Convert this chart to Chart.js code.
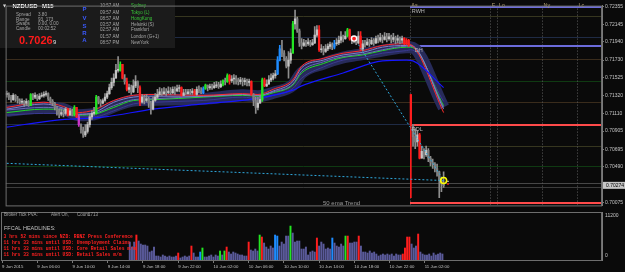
<!DOCTYPE html>
<html>
<head>
<meta charset="utf-8">
<script src="https://cdn.jsdelivr.net/npm/chart.js@4.4.1/dist/chart.umd.min.js"></script>
<style>
  html, body { margin: 0; padding: 0; background: #0a0a0a; }
  #wrap { position: relative; width: 625px; height: 272px; background: #0a0a0a; overflow: hidden; }
  #priceChart { position: absolute; left: 0; top: 0; }
  #volChart { position: absolute; left: 0; top: 211px; }
</style>
</head>
<body>
<div id="wrap">
  <canvas id="priceChart" width="625" height="211"></canvas>
  <canvas id="volChart" width="625" height="61"></canvas>
</div>
<script>
// NZDUSD M15, 9 Jun 2015 -> 11 Jun 2015
const totalBars = 273; // slots on the x axis, the right part is empty future space

const closes = [
  0.7133,0.7130,0.7127,0.7132,0.7128,0.7126,0.7124,0.7125,0.7123,0.7125,
  0.7120,0.7133,0.7130,0.7132,0.7128,0.7131,0.7132,0.7133,0.7134,0.7128,
  0.7125,0.7123,0.7118,0.7114,0.7110,0.7112,0.7111,0.7116,0.7109,0.7114,
  0.7109,0.7118,0.7107,0.7098,0.7092,0.7086,0.7090,0.7098,0.7107,0.7111,
  0.7111,0.7130,0.7125,0.7123,0.7126,0.7130,0.7134,0.7141,0.7147,0.7152,
  0.7161,0.7161,0.7168,0.7152,0.7148,0.7139,0.7141,0.7136,0.7143,0.7148,
  0.7141,0.7124,0.7130,0.7126,0.7128,0.7123,0.7116,0.7126,0.7130,0.7133,
  0.7136,0.7134,0.7136,0.7135,0.7137,0.7135,
  0.7139,0.7137,0.7140,0.7141,0.7132,0.7135,0.7134,0.7136,0.7135,0.7137,
  0.7133,0.7139,0.7137,0.7135,0.7140,0.7144,0.7141,0.7142,0.7141,0.7143,
  0.7144,0.7142,0.7145,0.7149,0.7148,0.7155,0.7149,0.7151,0.7152,0.7150,
  0.7148,0.7150,0.7148,0.7149,0.7147,0.7148,0.7133,0.7126,0.7118,0.7123,
  0.7127,0.7150,0.7143,0.7145,0.7150,0.7152,0.7155,0.7157,0.7173,0.7186,
  0.7181,0.7175,0.7166,0.7173,0.7181,0.7215,0.7221,0.7207,0.7193,0.7190,
  0.7193,0.7192,0.7194,0.7191,0.7193,0.7202,0.7208,0.7185,0.7186,0.7183,
  0.7186,0.7189,0.7191,0.7188,0.7192,0.7193,0.7196,0.7200,0.7198,0.7201,
  0.7208,0.7198,0.7196,0.7197,0.7193,0.7201,0.7186,0.7192,0.7191,0.7194,
  0.7192,0.7196,0.7193,0.7198,0.7196,0.7199,0.7197,0.7200,0.7198,0.7200,
  0.7197,0.7199,0.7196,0.7198,0.7196,0.7198,0.7192,0.7196,0.7190,0.7098,
  0.7084,0.7078,0.7086,0.7059,0.7067,0.7063,0.7068,0.7059,0.7054,0.7052,
  0.7047,0.7043,0.7033,0.7029,0.70269
];
const highs = [
  0.7137,0.7135,0.7132,0.7134,0.7133,0.7131,0.7128,0.7128,0.7126,0.7128,
  0.7126,0.7134,0.7134,0.7135,0.7133,0.7134,0.7135,0.7136,0.7137,0.7135,
  0.7130,0.7127,0.7124,0.7119,0.7116,0.7116,0.7115,0.7118,0.7117,0.7117,
  0.7116,0.7120,0.7118,0.7109,0.7099,0.7095,0.7098,0.7101,0.7110,0.7114,
  0.7118,0.7132,0.7131,0.7127,0.7128,0.7134,0.7137,0.7145,0.7152,0.7157,
  0.7168,0.7177,0.7171,0.7168,0.7156,0.7152,0.7145,0.7144,0.7150,0.7155,
  0.7149,0.7143,0.7133,0.7132,0.7133,0.7130,0.7125,0.7130,0.7134,0.7139,
  0.7141,0.7140,0.7141,0.7140,0.7142,0.7141,
  0.7142,0.7142,0.7144,0.7144,0.7142,0.7139,0.7139,0.7139,0.7139,0.7140,
  0.7139,0.7142,0.7143,0.7141,0.7142,0.7145,0.7144,0.7145,0.7145,0.7147,
  0.7148,0.7147,0.7149,0.7150,0.7152,0.7157,0.7156,0.7155,0.7156,0.7155,
  0.7152,0.7153,0.7152,0.7152,0.7151,0.7151,0.7149,0.7134,0.7130,0.7130,
  0.7132,0.7152,0.7152,0.7150,0.7155,0.7157,0.7158,0.7161,0.7177,0.7190,
  0.7196,0.7184,0.7177,0.7183,0.7186,0.7218,0.7231,0.7223,0.7209,0.7198,
  0.7197,0.7196,0.7198,0.7196,0.7197,0.7212,0.7213,0.7213,0.7191,0.7189,
  0.7191,0.7192,0.7194,0.7193,0.7196,0.7198,0.7201,0.7206,0.7202,0.7206,
  0.7210,0.7209,0.7200,0.7200,0.7198,0.7206,0.7206,0.7196,0.7196,0.7198,
  0.7197,0.7199,0.7198,0.7201,0.7202,0.7204,0.7202,0.7205,0.7204,0.7204,
  0.7202,0.7204,0.7201,0.7202,0.7200,0.7201,0.7199,0.7198,0.7197,0.7133,
  0.7098,0.7093,0.7091,0.7088,0.7073,0.7070,0.7073,0.7070,0.7061,0.7058,
  0.7054,0.7052,0.7044,0.7037,0.7043
];
const lows = [
  0.7130,0.7127,0.7124,0.7126,0.7125,0.7123,0.7122,0.7122,0.7119,0.7120,
  0.7119,0.7120,0.7127,0.7128,0.7126,0.7127,0.7130,0.7130,0.7131,0.7126,
  0.7123,0.7120,0.7115,0.7109,0.7106,0.7108,0.7107,0.7109,0.7108,0.7109,
  0.7108,0.7108,0.7106,0.7096,0.7088,0.7083,0.7084,0.7088,0.7095,0.7104,
  0.7109,0.7110,0.7122,0.7119,0.7122,0.7125,0.7128,0.7133,0.7139,0.7143,
  0.7152,0.7159,0.7160,0.7151,0.7145,0.7137,0.7135,0.7133,0.7135,0.7141,
  0.7135,0.7120,0.7123,0.7122,0.7124,0.7118,0.7110,0.7115,0.7125,0.7128,
  0.7132,0.7132,0.7133,0.7132,0.7134,0.7133,
  0.7134,0.7133,0.7136,0.7136,0.7131,0.7132,0.7133,0.7133,0.7133,0.7133,
  0.7132,0.7132,0.7135,0.7134,0.7134,0.7139,0.7137,0.7139,0.7139,0.7140,
  0.7141,0.7140,0.7141,0.7143,0.7144,0.7147,0.7145,0.7147,0.7145,0.7145,
  0.7144,0.7145,0.7143,0.7144,0.7143,0.7143,0.7132,0.7120,0.7111,0.7115,
  0.7123,0.7125,0.7142,0.7142,0.7145,0.7148,0.7150,0.7152,0.7156,0.7172,
  0.7177,0.7172,0.7164,0.7152,0.7169,0.7181,0.7209,0.7205,0.7189,0.7186,
  0.7189,0.7189,0.7190,0.7189,0.7190,0.7192,0.7200,0.7183,0.7182,0.7179,
  0.7182,0.7184,0.7186,0.7185,0.7186,0.7190,0.7191,0.7193,0.7194,0.7197,
  0.7200,0.7196,0.7192,0.7193,0.7191,0.7192,0.7184,0.7184,0.7188,0.7190,
  0.7189,0.7191,0.7190,0.7192,0.7193,0.7194,0.7193,0.7196,0.7194,0.7196,
  0.7193,0.7194,0.7192,0.7193,0.7192,0.7193,0.7191,0.7191,0.7189,0.7013,
  0.7073,0.7070,0.7073,0.7058,0.7059,0.7058,0.7061,0.7055,0.7050,0.7047,
  0.7043,0.7038,0.7013,0.7020,0.7025
];
// bars that did not open at the previous close (RBNZ rate decision)
const gapOpens = { 185: 0.7133 };

// PVA candle / volume classes (bar numbers)
const climaxBull = [11, 31, 41, 52, 91, 99, 101, 117, 131, 156];
const climaxBear = [28, 32, 53, 55, 61, 80, 86, 102, 112, 118, 143, 157, 162, 182, 183, 184, 185, 189];
const risingBull = [90, 124, 125, 150];
const risingBear = [33];

// broker tick volume, from bar 58 on
const volFirstBar = 58;
const volumes = [
  4190,3030,4190,5830,4430,3730,3500,3500,3260,1860,2100,3030,930,930,700,1170,930,700,
  930,700,700,930,1630,470,700,930,700,930,
  3260,1630,700,700,1860,2800,700,700,930,1170,
  700,1170,930,2100,1170,2100,3030,1860,1400,1860,
  1630,1400,1170,1170,930,930,4190,2330,2100,2560,
  2100,5830,5360,3960,3030,2560,3260,2800,5830,5590,
  3260,4190,3730,5590,5590,7920,6290,4190,4430,4430,
  2560,2560,3030,1170,1860,2100,1860,5130,3260,4190,
  3730,2560,2800,2560,5130,3960,3260,3030,3730,3260,
  5590,5590,3960,3960,4190,4190,5590,3260,1860,1860,
  1630,2100,1630,1860,1400,930,1170,1400,1170,1400,
  1170,1400,930,1400,1170,1170,1400,2800,5360,5360,
  3730,2800,3260,6060,1860,1400,1170,1170,1400,930,
  1630,1170,1400,1630,1400
];

// moving average ribbon, read at these bars
const maBars     = [0, 17, 26, 33, 40, 49, 58, 67, 90, 108, 115, 122, 131, 135, 145, 154, 163, 172, 183, 185, 200];
const emaFast    = [0.7118,0.7124,0.7119,0.7112,0.7115,0.7126,0.7132,0.7133,0.7132,0.7134,0.7133,0.7139,0.7150,0.7166,0.7175,0.7181,0.7184,0.7190,0.7192,0.7191,0.7112];
const emaMid1    = [0.7116,0.7122,0.7117,0.7110,0.7112,0.7124,0.7130,0.7131,0.7131,0.7133,0.7132,0.7137,0.7148,0.7164,0.7173,0.7179,0.7182,0.7188,0.7190,0.7190,0.7116];
const emaMid2    = [0.7115,0.7118,0.7116,0.7110,0.7111,0.7120,0.7127,0.7128,0.7131,0.7133,0.7132,0.7136,0.7145,0.7160,0.7171,0.7177,0.7180,0.7185,0.7189,0.7189,0.7118];
const emaSlow    = [0.7112,0.7116,0.7115,0.7109,0.7110,0.7118,0.7126,0.7127,0.7130,0.7132,0.7131,0.7135,0.7144,0.7158,0.7169,0.7176,0.7179,0.7184,0.7188,0.7188,0.7120];
const emaBase    = [0.7109,0.7111,0.7111,0.7107,0.7107,0.7114,0.7122,0.7124,0.7126,0.7130,0.7128,0.7132,0.7140,0.7152,0.7165,0.7173,0.7176,0.7181,0.7184,0.7185,0.7125];
const ribbonBand = [0.7114,0.7118,0.7116,0.7109,0.7110,0.7119,0.7126,0.7127,0.7128,0.7132,0.7131,0.7135,0.7144,0.7158,0.7169,0.7176,0.7180,0.7184,0.7188,0.7188,0.7118];
const trendBars  = [0, 22, 45, 67, 90, 113, 131, 135, 154, 172, 183, 186, 200];
const ema50      = [0.7095,0.7103,0.7107,0.7116,0.7122,0.7128,0.7138,0.7143,0.7158,0.7172,0.7173,0.7172,0.7141];

// dotted trend lines
const trendABars = [0, 200];
const trendAPrices = [0.7053, 0.7033];
const trendBBars = [161, 200];
const trendBPrices = [0.7191, 0.7033];

// markers
const signalBar = 159, signalPrice = 0.7198;
const lastBar = 200, lastMarkPrice = 0.7033;
const arrowBar = 202, arrowTopPrice = 0.7032, arrowDotPrice = 0.7029;

// right price scale
const priceTicks = [0.72355, 0.72145, 0.71940, 0.71730, 0.71525, 0.71320, 0.71110, 0.70905, 0.70695, 0.70490, 0.70075];
const bidPrice = 0.70274;
const yMin = 0.70041, yMax = 0.72363;
const volMax = 11200;

// time axis
const tickBars = [0, 16, 32, 48, 64, 80, 96, 112, 128, 144, 160, 176, 192];
const timeTicks = ['9 Jun 2015', '9 Jun 06:00', '9 Jun 10:00', '9 Jun 14:00', '9 Jun 18:00', '9 Jun 22:00',
  '10 Jun 02:00', '10 Jun 06:00', '10 Jun 10:00', '10 Jun 14:00', '10 Jun 18:00', '10 Jun 22:00', '11 Jun 02:00'];

// horizontal pivot lines and day levels
const pivotLevels = [0.72241, 0.71996, 0.71739, 0.71489, 0.71238, 0.70987, 0.70736, 0.70497, 0.70304, 0.70250];
const levelNames = ['RWH', 'DH', 'RDL', ''];
const levelPrices = [0.72344, 0.71899, 0.70976, 0.70070];
const sessionNames = ['As', 'F', 'Lo', 'Ny', 'Lc'];
const sessionBars = [184.5, 221.3, 224.5, 245, 261];

// text panels
const panelLabels = ['Spread', 'Range', 'Swaps', 'Candle'];
const panelValues = ['3.80', '93, 173', '0.00, 0.00', '00:02:52'];
const pvsra = ['P', 'V', 'S', 'R', 'A'];
const clockTimes = ['10:57 AM', '09:57 AM', '08:57 AM', '03:57 AM', '02:57 AM', '01:57 AM', '08:57 PM'];
const clockCities = ['Sydney', 'Tokyo (L)', 'HongKong', 'Helsinki (S)', 'Frankfurt', 'London (G+1)', 'NewYork'];
const headlines = [
  '3 hrs 52 mins since NZD: RBNZ Press Conference',
  '11 hrs 33 mins until USD: Unemployment Claims',
  '11 hrs 33 mins until USD: Core Retail Sales m/m',
  '11 hrs 33 mins until USD: Retail Sales m/m'
];

// ---------- build datasets ----------
const N = totalBars;
const labels = Array.from({ length: N }, (_, i) => String(i));
const sparse = (keys, vals) => {
  const out = new Array(N).fill(null);
  keys.forEach((k, j) => { out[k] = vals[j]; });
  return out;
};
const opens = closes.map((c, i) => (gapOpens[i] !== undefined ? gapOpens[i] : (i === 0 ? c : closes[i - 1])));

const pvaColor = i => {
  if (climaxBear.includes(i)) return '#ff1e1e';
  if (climaxBull.includes(i)) return '#22e622';
  if (risingBull.includes(i)) return '#1e8cff';
  if (risingBear.includes(i)) return '#cc33cc';
  return null;
};

const wickData = labels.map((_, i) => (i < closes.length ? [lows[i], highs[i]] : null));
const bodyData = labels.map((_, i) => (i < closes.length ? [opens[i], closes[i]] : null));
const wickColors = labels.map((_, i) => pvaColor(i) || '#8e8e8e');
const bodyColors = labels.map((_, i) => pvaColor(i) || (i < closes.length && closes[i] >= opens[i] ? '#c4c4c4' : '#7e7e7e'));
const volData = labels.map((_, i) => (i >= volFirstBar && i < volFirstBar + volumes.length ? volumes[i - volFirstBar] : null));
const volColors = labels.map((_, i) => pvaColor(i) || '#5a5a9a');

const lineDs = (data, color, width, order, extra) => Object.assign({
  type: 'line', data, borderColor: color, borderWidth: width, pointRadius: 0,
  spanGaps: true, fill: false, cubicInterpolationMode: 'monotone', order
}, extra || {});
const pointDs = (bar, price, opts) => Object.assign({
  type: 'line', data: sparse([bar], [price]), showLine: false, order: 1
}, opts);

const FONT = 'Liberation Sans';

// ---------- overlays ----------
const overlayMain = {
  id: 'overlayMain',
  beforeDatasetsDraw(chart) {
    const { ctx, chartArea: a, scales: { x, y } } = chart;
    ctx.save();
    ctx.beginPath();
    ctx.rect(a.left, a.top, a.right - a.left, a.bottom - a.top);
    ctx.clip();
    const pivotColors = ['#36361f', '#1f2b45', '#3a2c1c', '#0f3a12', '#3a2c1c', '#1f2b45', '#36361f', '#0f3a12', '#474747', '#3c3c3c'];
    ctx.lineWidth = 1;
    pivotLevels.forEach((p, k) => {
      const py = Math.round(y.getPixelForValue(p)) + 0.5;
      ctx.strokeStyle = pivotColors[k];
      ctx.beginPath(); ctx.moveTo(a.left, py); ctx.lineTo(a.right, py); ctx.stroke();
    });
    ctx.setLineDash([1, 2]);
    ctx.strokeStyle = '#5e5e5e';
    sessionBars.forEach(b => {
      const px = Math.round(x.getPixelForValue(b)) + 0.5;
      ctx.beginPath(); ctx.moveTo(px, a.top); ctx.lineTo(px, a.bottom); ctx.stroke();
    });
    ctx.setLineDash([]);
    const x0 = Math.round(x.getPixelForValue(sessionBars[0]));
    const levelColors = ['#6c6cdc', '#6c6cdc', '#ff4a4a', '#ff4a4a'];
    ctx.lineWidth = 2;
    levelPrices.forEach((p, k) => {
      const py = Math.round(y.getPixelForValue(p));
      ctx.strokeStyle = levelColors[k];
      ctx.beginPath(); ctx.moveTo(x0, py); ctx.lineTo(a.right, py); ctx.stroke();
    });
    ctx.restore();
  },
  afterDraw(chart) {
    const { ctx, chartArea: a, scales: { x, y } } = chart;
    ctx.save();
    ctx.textBaseline = 'middle';
    // level + session labels
    const x0 = x.getPixelForValue(sessionBars[0]);
    ctx.font = `5.5px "${FONT}"`;
    ctx.fillStyle = '#b8b8b8';
    levelNames.forEach((n, k) => {
      if (n) ctx.fillText(n, x0 + 2 + (n === 'DH' ? 3 : 0), y.getPixelForValue(levelPrices[k]) + 4.5);
    });
    ctx.fillStyle = '#b4a272';
    sessionNames.forEach((n, k) => ctx.fillText(n, x.getPixelForValue(sessionBars[k]) + 1.5, 5));
    ctx.fillStyle = '#9a9a9a';
    ctx.font = `6px "${FONT}"`;
    ctx.fillText('50 ema Trend', 323, 203.5);

    // info panel
    ctx.fillStyle = '#1b1b1b';
    ctx.fillRect(0, 0, 175, 48);
    ctx.fillStyle = '#d8d8d8';
    ctx.font = `4px "DejaVu Sans"`;
    ctx.fillText('▼', 3, 6);
    ctx.fillStyle = '#ffffff';
    ctx.font = `bold 6px "${FONT}"`;
    ctx.fillText('NZDUSD', 12.5, 6.5);
    ctx.fillText('M15', 42, 6.5);
    ctx.font = `4.6px "${FONT}"`;
    ctx.fillStyle = '#a4a4a4';
    const rowY = [14.7, 19.3, 24, 29];
    panelLabels.forEach((t, k) => ctx.fillText(t, 16, rowY[k]));
    panelValues.forEach((t, k) => ctx.fillText(t, 38, rowY[k]));
    ctx.fillStyle = '#ff1a1a';
    ctx.font = `bold 11px "${FONT}"`;
    ctx.fillText('0.7026', 19, 41);
    ctx.fillStyle = '#e0e0e0';
    ctx.font = `6px "${FONT}"`;
    ctx.fillText('9', 53, 42.5);
    ctx.fillStyle = '#3b5bff';
    ctx.font = `bold 6px "${FONT}"`;
    ctx.textAlign = 'center';
    [9.3, 18.3, 26, 33.3, 40.7].forEach((py, k) => ctx.fillText(pvsra[k], 84.5, py));
    ctx.textAlign = 'left';
    ctx.font = `4.5px "${FONT}"`;
    const clockY = [5.7, 12.3, 18.7, 24.3, 30, 36.3, 42.7];
    clockTimes.forEach((t, k) => {
      ctx.fillStyle = '#a8a8a8';
      ctx.fillText(t, 100, clockY[k]);
      ctx.fillStyle = k < 3 ? '#38c838' : '#a8a8a8';
      ctx.fillText(clockCities[k], 131, clockY[k]);
    });

    // window frame
    ctx.strokeStyle = '#6e6e6e';
    ctx.lineWidth = 1;
    ctx.strokeRect(a.left + 0.5, a.top + 0.5, a.right - a.left - 1, a.bottom - a.top);

    // bid box on the price scale
    const by = y.getPixelForValue(bidPrice);
    ctx.fillStyle = '#c6c6c6';
    ctx.fillRect(a.right + 1, by - 3.5, 22, 7);
    ctx.fillStyle = '#000000';
    ctx.font = `5px "${FONT}"`;
    ctx.fillText(bidPrice.toFixed(5), a.right + 4, by);
    ctx.restore();
  }
};

const overlayVol = {
  id: 'overlayVol',
  afterDraw(chart) {
    const { ctx, chartArea: a, scales: { y } } = chart;
    ctx.save();
    ctx.textBaseline = 'middle';
    ctx.strokeStyle = '#6e6e6e';
    ctx.lineWidth = 1;
    ctx.strokeRect(a.left + 0.5, a.top + 0.5, a.right - a.left - 1, a.bottom - a.top);
    ctx.fillStyle = '#c4c4c4';
    ctx.font = `5px "${FONT}"`;
    ctx.fillText(String(volMax), a.right + 3, y.getPixelForValue(volMax) + 3.5);
    ctx.fillText('0', a.right + 3, y.getPixelForValue(0) - 4);

    ctx.fillStyle = '#a4a4a4';
    ctx.font = `4.5px "${FONT}"`;
    ctx.fillText('Broker Tick PVA:', 4, 3.8);
    ctx.fillText('Alert On,', 51, 3.8);
    ctx.fillText('Count', 77, 3.8);
    ctx.fillText('1713', 88, 3.8);
    ctx.fillStyle = '#c0c0c0';
    ctx.font = `5.5px "${FONT}"`;
    ctx.fillText('FFCAL HEADLINES:', 4, 17.7);
    ctx.fillStyle = '#ff2020';
    ctx.font = `bold 4.7px "Liberation Mono"`;
    [26, 32, 38, 44].forEach((py, k) => ctx.fillText(headlines[k], 3.5, py));
    ctx.restore();
  }
};

// ---------- charts ----------
new Chart(document.getElementById('priceChart'), {
  type: 'bar',
  data: {
    labels,
    datasets: [
      lineDs(sparse(maBars, ribbonBand), '#272b5a', 12, 20),
      lineDs(sparse(maBars, emaBase), '#3a3a92', 1, 16),
      lineDs(sparse(maBars, emaSlow), '#22dd22', 1, 15),
      lineDs(sparse(maBars, emaMid2), '#6a6ab4', 1, 14),
      lineDs(sparse(maBars, emaMid1), '#8080c4', 1, 13),
      lineDs(sparse(maBars, emaFast), '#ff2a2a', 1, 12),
      lineDs(sparse(trendBars, ema50), '#1616ff', 1.2, 11),
      { type: 'bar', data: wickData, backgroundColor: wickColors, barThickness: 1, grouped: false, order: 6 },
      { type: 'bar', data: bodyData, backgroundColor: bodyColors, barThickness: 1.6, minBarLength: 1, grouped: false, order: 5 },
      lineDs(sparse(trendABars, trendAPrices), '#30a8dc', 1, 3, { borderDash: [2, 2], cubicInterpolationMode: 'default', tension: 0 }),
      lineDs(sparse(trendBBars, trendBPrices), '#30a8dc', 1, 3, { borderDash: [2, 2], cubicInterpolationMode: 'default', tension: 0 }),
      pointDs(signalBar, signalPrice, { pointRadius: 2.6, pointBackgroundColor: '#ff2020', pointBorderColor: '#ffffff', pointBorderWidth: 1.4 }),
      pointDs(lastBar, lastMarkPrice, { pointRadius: 3, pointBackgroundColor: 'rgba(0,0,0,0)', pointBorderColor: '#ffff00', pointBorderWidth: 1.6 }),
      pointDs(arrowBar, arrowTopPrice, { pointRadius: 1, pointStyle: 'rect', pointBackgroundColor: '#dcdcdc', pointBorderWidth: 0 }),
      pointDs(arrowBar, arrowDotPrice, { pointRadius: 1.2, pointStyle: 'rect', pointBackgroundColor: '#ff2020', pointBorderWidth: 0 })
    ]
  },
  options: {
    responsive: false,
    animation: false,
    devicePixelRatio: 1,
    layout: { padding: { left: 1, top: 1, right: 0, bottom: 1 } },
    plugins: { legend: { display: false }, tooltip: { enabled: false } },
    scales: {
      x: { display: false, offset: true },
      y: {
        position: 'right', min: yMin, max: yMax,
        afterBuildTicks: s => { s.ticks = priceTicks.map(v => ({ value: v })); },
        afterFit: s => { s.width = 23; },
        ticks: { autoSkip: false, callback: v => v.toFixed(5), color: '#c4c4c4', font: { family: FONT, size: 5 }, padding: 1 },
        grid: { drawOnChartArea: false, tickLength: 2, color: '#7a7a7a' },
        border: { color: '#7a7a7a' }
      }
    }
  },
  plugins: [overlayMain]
});

new Chart(document.getElementById('volChart'), {
  type: 'bar',
  data: {
    labels,
    datasets: [{ data: volData, backgroundColor: volColors, barThickness: 1.3 }]
  },
  options: {
    responsive: false,
    animation: false,
    devicePixelRatio: 1,
    layout: { padding: { left: 1, top: 1, right: 0, bottom: 0 } },
    plugins: { legend: { display: false }, tooltip: { enabled: false } },
    scales: {
      x: {
        offset: true,
        afterBuildTicks: s => { s.ticks = tickBars.map(v => ({ value: v })); },
        afterFit: s => { s.height = 12; },
        ticks: { autoSkip: false, maxRotation: 0, align: 'start', padding: 1, color: '#c4c4c4',
          font: { family: FONT, size: 4.3 }, callback: (v, k) => timeTicks[k] },
        grid: { drawOnChartArea: false, offset: false, tickLength: 3, color: '#7a7a7a' },
        border: { color: '#7a7a7a' }
      },
      y: {
        position: 'right', min: 0, max: volMax,
        afterFit: s => { s.width = 23; },
        ticks: { display: false },
        grid: { display: false },
        border: { color: '#7a7a7a' }
      }
    }
  },
  plugins: [overlayVol]
});
</script>
</body>
</html>
